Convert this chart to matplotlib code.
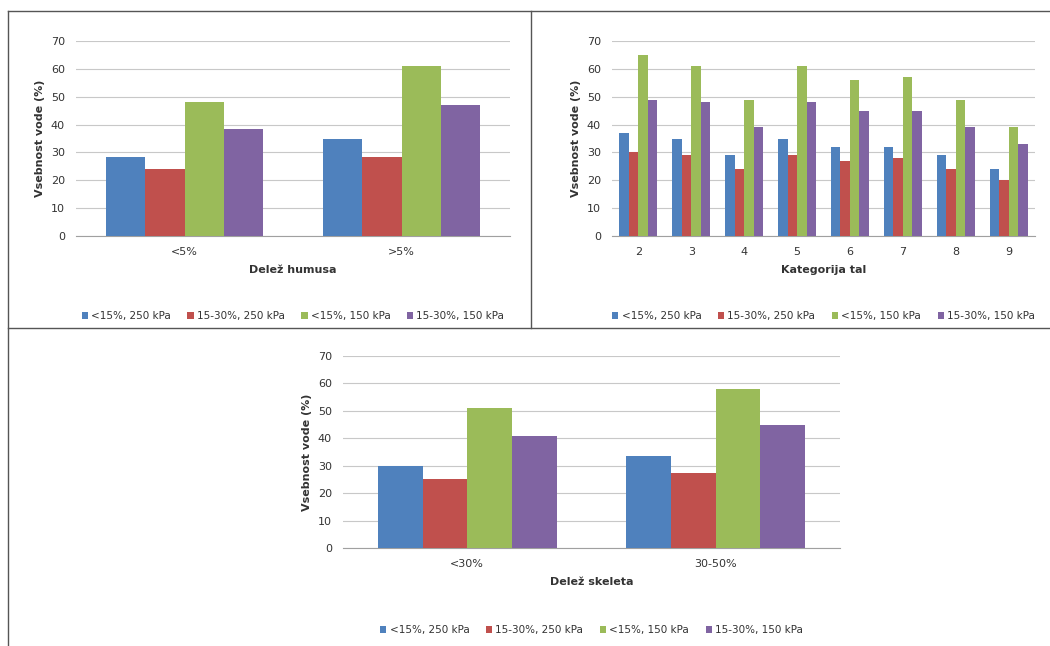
import numpy as np
import matplotlib.pyplot as plt
from matplotlib.lines import Line2D

series = ['<15%, 250 kPa', '15-30%, 250 kPa', '<15%, 150 kPa', '15-30%, 150 kPa']
colors = ['#4F81BD', '#C0504D', '#9BBB59', '#8064A2']

humus_cats = ['<5%', '>5%']
humus_vals = [[28.5, 35], [24, 28.5], [48, 61], [38.5, 47]]

tal_cats = ['2', '3', '4', '5', '6', '7', '8', '9']
tal_vals = [[37, 35, 29, 35, 32, 32, 29, 24],
            [30, 29, 24, 29, 27, 28, 24, 20],
            [65, 61, 49, 61, 56, 57, 49, 39],
            [49, 48, 39, 48, 45, 45, 39, 33]]

skelet_cats = ['<30%', '30-50%']
skelet_vals = [[30, 33.5], [25, 27.5], [51, 58], [41, 45]]

W, H = 1050, 646
fig = plt.figure(figsize=(W / 100, H / 100), dpi=100)


def panel(rect, cats, vals, xlabel, legend_y):
    l, t, r, b = rect
    ax = fig.add_axes([l / W, 1 - b / H, (r - l) / W, (b - t) / H])
    x = np.arange(len(cats))
    bw = 0.72 / 4
    for i in range(4):
        ax.bar(x + (i - 1.5) * bw, vals[i], bw, color=colors[i], label=series[i], zorder=3)
    ax.set_xlim(-0.5, len(cats) - 0.5)
    ax.set_ylim(0, 70)
    ax.set_yticks(range(0, 71, 10))
    ax.set_xticks(x)
    ax.set_xticklabels(cats)
    ax.grid(axis='y', color='#c8c8c8', lw=0.8, zorder=0)
    for s in ['top', 'right', 'left']:
        ax.spines[s].set_visible(False)
    ax.spines['bottom'].set_color('#a0a0a0')
    ax.tick_params(length=0, labelsize=8, colors='#333333', pad=8)
    ax.set_ylabel('Vsebnost vode (%)', fontsize=8, fontweight='bold', color='#333333')
    ax.set_xlabel(xlabel, fontsize=8, fontweight='bold', color='#333333', labelpad=6)
    cx = ((l + r) / 2) / W
    ax.legend(loc='center', bbox_to_anchor=(cx, 1 - legend_y / H), bbox_transform=fig.transFigure,
              ncol=4, frameon=False, fontsize=7.5, handlelength=0.6, handleheight=0.6,
              columnspacing=1.6, handletextpad=0.3, labelcolor='#333333')
    return ax


panel((76, 41, 510, 236), humus_cats, humus_vals, 'Delež humusa', 316)
panel((612, 41, 1035, 236), tal_cats, tal_vals, 'Kategorija tal', 316)
panel((343, 356, 840, 548), skelet_cats, skelet_vals, 'Delež skeleta', 630)

# frame lines
def fline(x0, y0, x1, y1):
    fig.add_artist(Line2D([x0 / W, x1 / W], [1 - y0 / H, 1 - y1 / H], color='#555555', lw=1))

fline(8, 11, 1050, 11)
fline(8, 11, 8, 646)
fline(531, 11, 531, 328)
fline(8, 328, 1050, 328)

fig.savefig('out.png', dpi=100)
